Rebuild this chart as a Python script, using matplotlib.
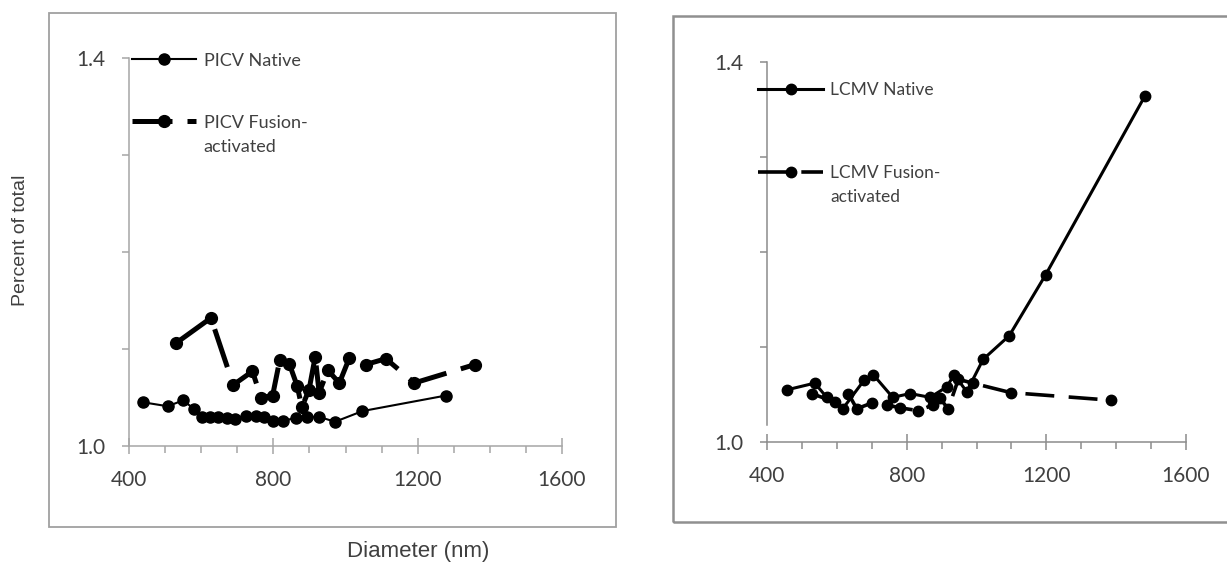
import matplotlib.pyplot as plt
from matplotlib.patches import Rectangle
from matplotlib.ticker import MultipleLocator

# PICV panel (left)
picv_native_d = [440, 507, 550, 581, 601, 624, 647, 671, 694, 724, 752, 774, 800, 828, 862, 894, 927, 971, 1047, 1278]
picv_native_p = [1.045, 1.041, 1.047, 1.038, 1.030, 1.030, 1.030, 1.029, 1.028, 1.031, 1.031, 1.030,
                 1.026, 1.026, 1.029, 1.030, 1.030, 1.025, 1.036, 1.052]
picv_fusion_d = [530, 627, 689, 742, 766, 798, 818, 844, 866, 879, 899, 916, 927, 951, 983, 1011, 1056, 1112, 1191, 1359]
picv_fusion_p = [1.106, 1.132, 1.063, 1.077, 1.050, 1.052, 1.089, 1.085, 1.062, 1.040, 1.058, 1.092,
                 1.055, 1.078, 1.065, 1.091, 1.084, 1.090, 1.065, 1.084]

# LCMV panel (right)
lcmv_native_d = [458, 537, 571, 617, 678, 704, 760, 810, 867, 915, 936, 972, 1019, 1094, 1198, 1482]
lcmv_native_p = [1.055, 1.062, 1.047, 1.035, 1.065, 1.071, 1.047, 1.051, 1.047, 1.058, 1.071, 1.053,
                 1.087, 1.112, 1.176, 1.364]
lcmv_fusion_d = [528, 595, 633, 657, 700, 743, 781, 833, 876, 895, 919, 948, 989, 1098, 1384]
lcmv_fusion_p = [1.051, 1.042, 1.051, 1.035, 1.041, 1.039, 1.036, 1.033, 1.039, 1.046, 1.035, 1.066,
                 1.062, 1.052, 1.044]

x_ticks = [400, 800, 1200, 1600]
y_ticks = [1.0, 1.1, 1.2, 1.3, 1.4]
y_tick_labels = ['1.0', '', '', '', '1.4']

FONT = 'Lato'
TXT = '#404040'
W, H = 1227, 566

fig = plt.figure(figsize=(W / 100, H / 100), dpi=100)

# panel frames (chart-area borders)
fig.patches.append(Rectangle((49 / W, 1 - 527 / H), (616 - 49) / W, (527 - 13) / H,
                             transform=fig.transFigure, fill=False, ec='#a0a0a0', lw=1.3))
fig.patches.append(Rectangle((673 / W, 1 - 522 / H), (1240 - 673) / W, (522 - 16) / H,
                             transform=fig.transFigure, fill=False, ec='#909090', lw=1.8))

ax1 = fig.add_axes([129 / W, 1 - 446 / H, (562 - 129) / W, (446 - 58) / H])
ax2 = fig.add_axes([767 / W, 1 - 442 / H, (1186 - 767) / W, (442 - 62) / H])


def style_axes(ax, spine_col, pad_x):
    ax.set_xlim(400, 1600)
    ax.set_ylim(1.0, 1.4)
    for s in ['top', 'right']:
        ax.spines[s].set_visible(False)
    for s in ['left', 'bottom']:
        ax.spines[s].set_color(spine_col)
        ax.spines[s].set_linewidth(1.1)
    ax.set_xticks(x_ticks)
    ax.xaxis.set_minor_locator(MultipleLocator(100))
    ax.set_yticks(y_ticks, labels=y_tick_labels)
    ax.tick_params(axis='x', which='major', direction='inout', length=11, width=1.1,
                   color=spine_col, labelsize=15, pad=pad_x)
    ax.tick_params(axis='x', which='minor', direction='out', length=5, width=1.1, color=spine_col)
    ax.tick_params(axis='y', which='major', direction='out', length=5, width=1.1,
                   color=spine_col, labelsize=15, pad=12)
    for lab in ax.get_xticklabels() + ax.get_yticklabels():
        lab.set_fontfamily(FONT)
        lab.set_color(TXT)


style_axes(ax1, '#a6a6a6', 12)
style_axes(ax2, '#8c8c8c', 12)
ax2.spines['left'].set_bounds(1.018, 1.4)

# left: PICV
ax1.plot(picv_native_d, picv_native_p, '-', color='black', lw=1.5, marker='o', ms=8,
         label='PICV Native', clip_on=False)
ax1.plot(picv_fusion_d, picv_fusion_p, color='black', lw=3.6, ls=(0, (8, 3)), marker='o', ms=8.5,
         label='PICV Fusion-', clip_on=False)

# right: LCMV
ax2.plot(lcmv_native_d, lcmv_native_p, '-', color='black', lw=2.2, marker='o', ms=7.5,
         label='LCMV Native', clip_on=False)
ax2.plot(lcmv_fusion_d, lcmv_fusion_p, color='black', lw=2.6, ls=(0, (8, 4)), marker='o', ms=7.5,
         label='LCMV Fusion-', clip_on=False)

leg1 = ax1.legend(loc='upper left', bbox_to_anchor=(0.008, 1.014), frameon=False, borderpad=0,
                  borderaxespad=0, handlelength=3.5, handletextpad=0.44, labelspacing=2.55,
                  prop={'family': FONT, 'size': 13}, labelcolor=TXT)
leg2 = ax2.legend(loc='upper left', bbox_to_anchor=(-0.0215, 0.948), frameon=False, borderpad=0,
                  borderaxespad=0, handlelength=3.75, handletextpad=0.4, labelspacing=3.9,
                  prop={'family': FONT, 'size': 12.5}, labelcolor=TXT)

# second line of the two-line legend labels (drawn after the legend)
for ax, leg, size in [(ax1, leg1, 13), (ax2, leg2, 12.5)]:
    ax.annotate('activated', xy=(0, 0), xycoords=leg.get_texts()[1], xytext=(0, -21),
                textcoords='offset pixels', va='baseline', ha='left', zorder=10,
                annotation_clip=False, family=FONT, fontsize=size, color=TXT)

fig.text(21 / W, 1 - 240 / H, 'Percent of total', rotation=90, ha='center', va='center',
         family='Liberation Sans', fontsize=14, color=TXT)
fig.text(418 / W, 1 - 552 / H, 'Diameter (nm)', ha='center', va='center',
         family='Liberation Sans', fontsize=16, color=TXT)

fig.canvas.draw()
fig.savefig('out.png', dpi=100)
